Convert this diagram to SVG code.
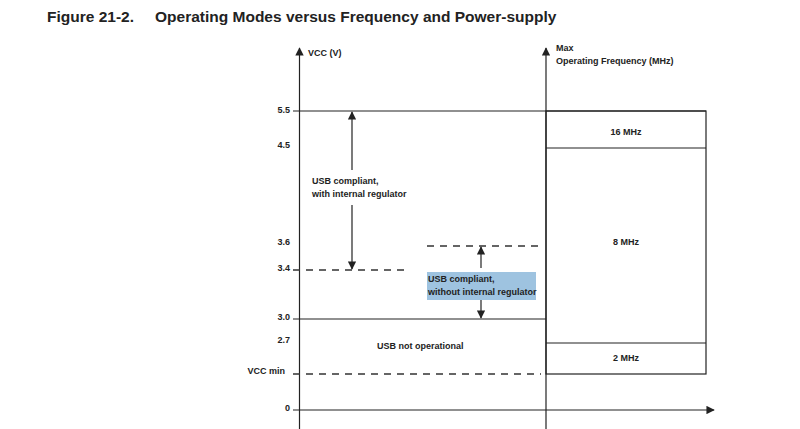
<svg xmlns="http://www.w3.org/2000/svg" width="800" height="429" viewBox="0 0 800 429">
<style>
text{font-family:"Liberation Sans",Arial,sans-serif;font-size:9px;font-weight:bold;fill:#222}
.l{stroke:#222;stroke-width:1.2;fill:none}
.d{stroke:#333;stroke-width:1.3;stroke-dasharray:7,6;fill:none}
</style>
<defs><marker id="a" viewBox="0 0 10 10" refX="9" refY="5" markerWidth="7" markerHeight="7" orient="auto-start-reverse"><path d="M0,0L10,5L0,10z" fill="#222"/></marker></defs>
<rect width="800" height="429" fill="#fff"/>
<text x="47" y="22" style="font-size:15.5px">Figure 21-2.</text>
<text x="155" y="22" style="font-size:15.5px">Operating Modes versus Frequency and Power-supply</text>
<g id="axes">
<line class="l" x1="299.5" y1="429" x2="299.5" y2="48" marker-end="url(#a)"/>
<line class="l" x1="546" y1="429" x2="546" y2="48" marker-end="url(#a)"/>
<line class="l" x1="293" y1="410" x2="714" y2="410" marker-end="url(#a)"/>
<text x="308" y="56">VCC (V)</text>
<text x="556" y="51">Max</text>
<text x="556" y="64">Operating Frequency (MHz)</text>
</g>
<g id="ticks">
<text x="290" y="113" text-anchor="end">5.5</text>
<text x="290" y="148" text-anchor="end">4.5</text>
<text x="290" y="245" text-anchor="end">3.6</text>
<text x="290" y="271" text-anchor="end">3.4</text>
<text x="290" y="320" text-anchor="end">3.0</text>
<text x="290" y="343" text-anchor="end">2.7</text>
<text x="285" y="374" text-anchor="end">VCC min</text>
<text x="290" y="411" text-anchor="end">0</text>
</g>
<g id="connectors">
<line class="l" x1="293" y1="111" x2="706" y2="111"/>
<line class="l" x1="293" y1="319" x2="546" y2="319"/>
<path class="d" d="M293 270H405"/>
<path class="d" d="M427 246H541"/>
<path class="d" d="M293 374H541"/>
<line class="l" x1="352" y1="170" x2="352" y2="112" marker-end="url(#a)"/>
<line class="l" x1="352" y1="205" x2="352" y2="269" marker-end="url(#a)"/>
<line class="l" x1="481" y1="268" x2="481" y2="247" marker-end="url(#a)"/>
<line class="l" x1="481" y1="300" x2="481" y2="318" marker-end="url(#a)"/>
</g>
<g id="freq">
<rect class="l" x="546" y="111" width="160" height="263"/>
<line class="l" x1="546" y1="148" x2="706" y2="148"/>
<line class="l" x1="546" y1="343" x2="706" y2="343"/>
<text x="626" y="135" text-anchor="middle">16 MHz</text>
<text x="626" y="245" text-anchor="middle">8 MHz</text>
<text x="626" y="361" text-anchor="middle">2 MHz</text>
</g>
<g id="labels">
<text x="312" y="184">USB compliant,</text>
<text x="312" y="197">with internal regulator</text>
<rect x="427" y="272" width="109" height="28" fill="#9ec3e0"/>
<text x="428" y="282">USB compliant,</text>
<text x="428" y="295">without internal regulator</text>
<text x="377" y="349">USB not operational</text>
</g>
</svg>
